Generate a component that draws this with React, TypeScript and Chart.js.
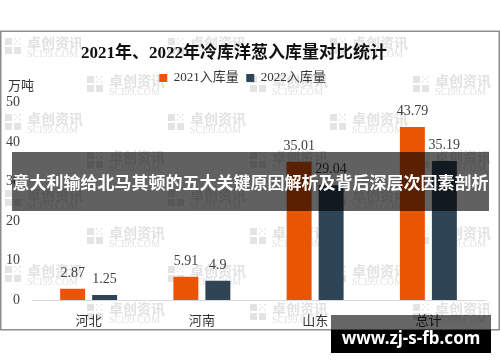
import React, { useEffect, useRef } from "react";
import { Chart, registerables } from "chart.js";

Chart.register(...registerables);

const categories = ["河北", "河南", "山东", "总计"];
const seriesLabels = ["2021入库量", "2022入库量"];
const inbound2021 = [2.87, 5.91, 35.01, 43.79];
const inbound2022 = [1.25, 4.9, 29.04, 35.19];
const yMin = 0;
const yMax = 50;
const yStep = 10;
const titleText = "2021年、2022年冷库洋葱入库量对比统计";
const unitText = "万吨";
const bannerText = "意大利输给北马其顿的五大关键原因解析及背后深层次因素剖析";
const siteText = "www.zj-s-fb.com";
const wmMain = "卓创资讯";
const wmSub = "SCI99.COM";

const ORANGE = "#ea5504";
const SLATE = "#2f4454";
const SERIF = "'Liberation Serif', 'Noto Sans CJK SC', serif";
const SANS = "'Noto Sans CJK SC', 'Noto Sans', sans-serif";

const decorPlugin = {
  id: "decor",
  beforeDraw(chart: any) {
    const ctx = chart.ctx;
    ctx.save();
    ctx.fillStyle = "#ffffff";
    ctx.fillRect(0, 0, chart.width, chart.height);
    // watermarks
    const rows = [38, 76, 114, 152, 190, 228, 266, 304];
    rows.forEach((ry, i) => {
      const xs = i % 2 === 0 ? [5, 168, 330] : [87, 250, 413];
      xs.forEach((rx) => {
        ctx.fillStyle = "#e4e4e4";
        ctx.fillRect(rx, ry, 7, 7);
        ctx.fillRect(rx, ry + 9, 7, 7);
        ctx.fillRect(rx + 9, ry + 9, 7, 7);
        for (let a = 0; a < 3; a++) {
          for (let b = 0; b < 3; b++) {
            if ((a + b) % 2 === 0) ctx.fillRect(rx + 9 + a * 2.5, ry + b * 2.5, 1.5, 1.5);
          }
        }
        ctx.fillStyle = "#e2e2e2";
        ctx.font = `bold 14px ${SANS}`;
        ctx.textAlign = "left";
        ctx.textBaseline = "top";
        ctx.fillText(wmMain, rx + 22, ry - 2);
        ctx.font = `10px ${SERIF}`;
        ctx.fillText(wmSub, rx + 22, ry + 11);
      });
    });
    // border
    ctx.strokeStyle = "#8c8c8c";
    ctx.lineWidth = 1.5;
    ctx.strokeRect(0.75, 31.25, 498.5, 298.5);
    // title
    ctx.fillStyle = "#111111";
    ctx.font = `bold 17px ${SERIF}`;
    ctx.textAlign = "center";
    ctx.textBaseline = "middle";
    ctx.fillText(titleText, 234, 54);
    // unit
    ctx.fillStyle = "#333333";
    ctx.font = `13px ${SERIF}`;
    ctx.textAlign = "left";
    ctx.fillText(unitText, 8, 87);
    ctx.restore();
  },
  afterDatasetsDraw(chart: any) {
    const ctx = chart.ctx;
    ctx.save();
    ctx.fillStyle = "#404040";
    ctx.font = `14px ${SERIF}`;
    ctx.textAlign = "center";
    ctx.textBaseline = "alphabetic";
    chart.data.datasets.forEach((ds: any, di: number) => {
      const meta = chart.getDatasetMeta(di);
      meta.data.forEach((bar: any, i: number) => {
        ctx.fillText(String(ds.data[i]), bar.x, bar.y - 12);
      });
    });
    ctx.restore();
  },
};

function BarChart() {
  const ref = useRef<HTMLCanvasElement | null>(null);
  useEffect(() => {
    if (!ref.current) return;
    const chart = new Chart(ref.current, {
      type: "bar",
      data: {
        labels: categories,
        datasets: [
          {
            label: seriesLabels[0],
            data: inbound2021,
            backgroundColor: ORANGE,
            categoryPercentage: 0.565,
            barPercentage: 0.78,
          },
          {
            label: seriesLabels[1],
            data: inbound2022,
            backgroundColor: SLATE,
            categoryPercentage: 0.565,
            barPercentage: 0.78,
          },
        ],
      },
      options: {
        responsive: false,
        animation: false,
        layout: { padding: { top: 64, left: 0, right: 15, bottom: 0 } },
        plugins: {
          title: { display: false },
          subtitle: {
            display: true,
            text: "",
            weight: 500,
            font: { size: 1 },
            padding: { top: 0, bottom: 6.8 },
          },
          tooltip: { enabled: false },
          legend: {
            display: true,
            position: "top",
            labels: {
              boxWidth: 8,
              boxHeight: 8,
              padding: 7.5,
              color: "#333333",
              font: { family: SERIF, size: 13 },
            },
          },
        },
        scales: {
          x: {
            grid: { display: false, drawTicks: false },
            border: { display: true, color: "#d9d9d9", width: 1 },
            ticks: { color: "#333333", font: { family: SERIF, size: 13 }, padding: 14 },
            afterFit: (s: any) => {
              s.height = 62;
            },
          },
          y: {
            min: yMin,
            max: yMax,
            grid: { display: false, drawTicks: false },
            border: { display: false },
            ticks: {
              stepSize: yStep,
              autoSkip: false,
              color: "#404040",
              font: { family: SERIF, size: 14 },
              padding: 12,
            },
            afterFit: (s: any) => {
              s.width = 32;
            },
          },
        },
      },
      plugins: [decorPlugin],
    } as any);
    return () => chart.destroy();
  }, []);
  return <canvas ref={ref} width={500} height={362} style={{ display: "block" }} />;
}

export default function App() {
  return (
    <div style={{ position: "fixed", left: 0, top: 0, width: 500, height: 362, background: "#fff", overflow: "hidden" }}>
      <BarChart />
      <div
        style={{
          position: "absolute",
          left: 12,
          top: 152,
          width: 477,
          height: 59,
          background: "rgba(0,0,0,0.62)",
          color: "#fff",
          fontFamily: SANS,
          fontWeight: 700,
          fontSize: 17,
          lineHeight: "59px",
          textAlign: "center",
          whiteSpace: "nowrap",
          letterSpacing: 0,
        }}
      >
        {bannerText}
      </div>
      <div style={{ position: "absolute", left: 331, top: 315, width: 160, height: 15, background: "rgba(0,0,0,0.6)" }} />
      <div style={{ position: "absolute", left: 331, top: 330, width: 160, height: 23, background: "#000" }} />
      <div
        style={{
          position: "absolute",
          left: 331,
          top: 323,
          width: 160,
          height: 30,
          color: "#fff",
          fontFamily: "'Noto Sans', 'DejaVu Sans', sans-serif",
          fontWeight: 700,
          fontSize: 17,
          lineHeight: "30px",
          textAlign: "center",
          whiteSpace: "nowrap",
        }}
      >
        {siteText}
      </div>
    </div>
  );
}
